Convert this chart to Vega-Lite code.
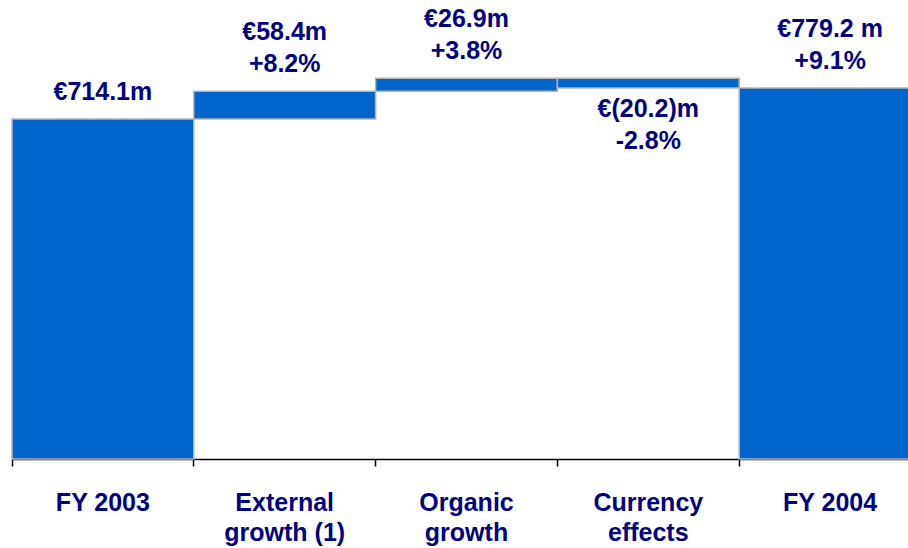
{
  "$schema": "https://vega.github.io/schema/vega-lite/v6.json",
  "width": 896,
  "height": 459,
  "autosize": {"type": "none"},
  "padding": {"left": 12, "top": 0, "right": 0, "bottom": 89},
  "background": "white",
  "config": {"view": {"stroke": null}},
  "data": {
    "values": [
      {"step": "FY 2003", "low": 0, "high": 714.1, "pos": "above", "label": ["", "€714.1m"]},
      {"step": "External|growth (1)", "low": 714.1, "high": 772.5, "pos": "above", "label": ["€58.4m", "+8.2%"]},
      {"step": "Organic|growth", "low": 772.5, "high": 799.4, "pos": "above", "label": ["€26.9m", "+3.8%"]},
      {"step": "Currency|effects", "low": 779.2, "high": 799.4, "pos": "below", "label": ["€(20.2)m", "-2.8%"]},
      {"step": "FY 2004", "low": 0, "high": 779.2, "pos": "above", "label": ["€779.2 m", "+9.1%"]}
    ]
  },
  "encoding": {
    "x": {
      "field": "step",
      "type": "nominal",
      "sort": null,
      "scale": {"range": [0, 909], "paddingInner": 0, "paddingOuter": 0},
      "axis": {
        "title": null,
        "bandPosition": 0,
        "domainColor": "black",
        "domainWidth": 1.5,
        "tickColor": "black",
        "tickWidth": 1.5,
        "tickSize": 7,
        "labelPadding": 24,
        "labelFontSize": 25,
        "labelFont": "Liberation Sans",
        "labelFontWeight": "bold",
        "labelColor": "#000080",
        "labelAngle": 0,
        "labelBaseline": "top",
        "labelExpr": "split(datum.label, '|')",
        "labelLineHeight": 30,
        "labelLimit": 400,
        "labelOverlap": false
      }
    }
  },
  "layer": [
    {
      "mark": {"type": "bar", "color": "#0066CC", "stroke": "#b4b4b4", "strokeWidth": 1.5},
      "encoding": {
        "y": {"field": "low", "type": "quantitative", "scale": {"domain": [0, 964], "nice": false}, "axis": null},
        "y2": {"field": "high"}
      }
    },
    {
      "transform": [{"filter": "datum.pos == 'above'"}],
      "mark": {"type": "text", "baseline": "bottom", "dy": -46, "fontSize": 25, "fontWeight": "bold", "font": "Liberation Sans", "color": "#000080", "lineHeight": 32},
      "encoding": {
        "y": {"field": "high", "type": "quantitative"},
        "text": {"field": "label", "type": "nominal"}
      }
    },
    {
      "transform": [{"filter": "datum.pos == 'below'"}],
      "mark": {"type": "text", "baseline": "top", "dy": 9, "fontSize": 25, "fontWeight": "bold", "font": "Liberation Sans", "color": "#000080", "lineHeight": 32},
      "encoding": {
        "y": {"field": "low", "type": "quantitative"},
        "text": {"field": "label", "type": "nominal"}
      }
    }
  ]
}
